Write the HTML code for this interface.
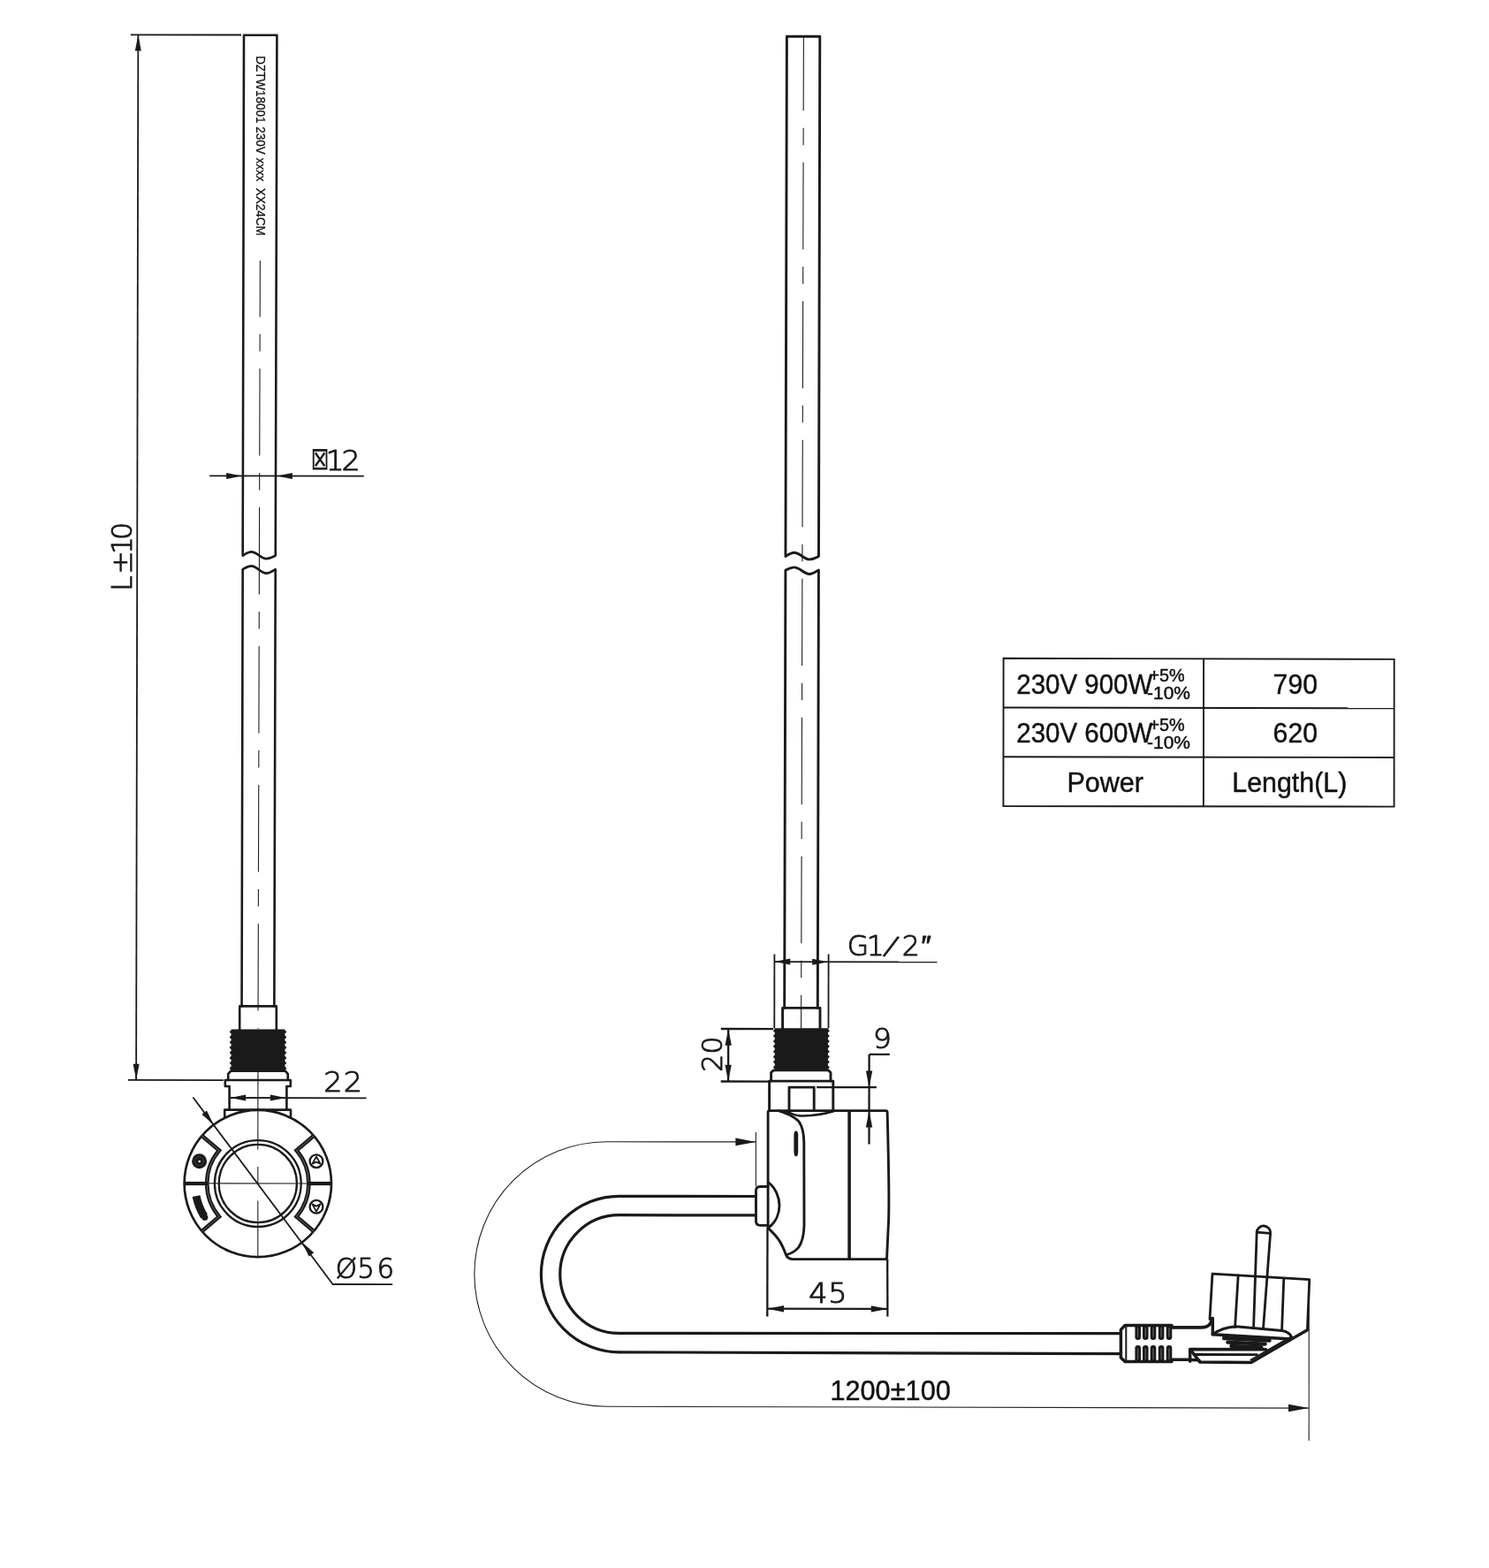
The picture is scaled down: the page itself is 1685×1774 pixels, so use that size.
<!DOCTYPE html>
<html lang="en">
<head>
<meta charset="utf-8">
<title>Heating element with controller - dimensional drawing</title>
<style>
html,body{margin:0;padding:0;background:#fff;}
body{width:1685px;height:1774px;overflow:hidden;}
svg{display:block;will-change:transform;filter:grayscale(1);}
.h{stroke:#1a1a1a;stroke-width:2.6;fill:none;stroke-linecap:round;stroke-linejoin:round;}
.h3{stroke:#1a1a1a;stroke-width:3.4;fill:none;stroke-linecap:round;stroke-linejoin:round;}
.h2{stroke:#1a1a1a;stroke-width:2;fill:none;stroke-linecap:round;stroke-linejoin:round;}
.d{stroke:#1a1a1a;stroke-width:1.9;fill:none;stroke-linecap:butt;}
.t{stroke:#222;stroke-width:1.1;fill:none;}
.c{stroke:#1f1f1f;stroke-width:1.1;fill:none;}
.k{fill:#1a1a1a;stroke:none;}
#front-view .h{stroke-width:2.6;}
#front-view .d{stroke-width:1.8;}
#side-view .h{stroke-width:2.9;}
#side-view .d{stroke-width:2.3;}
#side-view .tube{stroke-width:2.9;}
#side-view .cable{stroke-width:3.2;}
#plug .h{stroke-width:2.8;}
#plug .h3{stroke-width:3.5;}
.w{fill:#fff;stroke:none;}
.cad{font-family:"DejaVu Sans Light","DejaVu Sans","Liberation Sans",sans-serif;font-weight:200;font-size:31.5px;fill:#1a1a1a;stroke:#1a1a1a;stroke-width:1px;stroke-linejoin:round;}
.sym{font-family:"DejaVu Sans","Liberation Sans",sans-serif;font-weight:400;font-size:36px;fill:#1a1a1a;stroke:none;}
.lab{font-family:"Liberation Sans",sans-serif;font-size:30px;fill:#111;stroke:#111;stroke-width:0.45px;}
</style>
</head>
<body>
<svg width="1685" height="1774" viewBox="0 0 1685 1774">
<rect width="1685" height="1774" fill="#fff"/>
<g id="front-view">
<line class="d" x1="147.8" y1="39.35" x2="273" y2="39.5"/>
<line class="d" x1="156.35" y1="39.4" x2="154.1" y2="1222"/>
<line class="d" x1="144.8" y1="1221.9" x2="252.8" y2="1222.1"/>
<polygon class="k" points="156.35,39.6 159.82,57.61 152.82,57.59"/>
<polygon class="k" points="154.1,1221.8 150.63,1203.79 157.63,1203.81"/>
<text class="cad" transform="translate(148.5 0) rotate(-90) scale(1.0 1)" x="-668.71 -649.59 -626.91 -610.77" y="0">L±10</text>
<path class="h" d="M276,39.7 L274.69,628.6 C278.4,626.29 280.99,624.4 284.33,624.4 C290.63,624.4 295.45,632.1 301.38,632.1 C305.09,632.1 308.8,630 311.76,628.6 L313.4,39.8 Z"/>
<path class="h" d="M273.56,1138.4 L274.66,644.1 C278.36,642.07 280.96,640.4 284.29,640.4 C290.6,640.4 295.41,648.6 301.34,648.6 C305.05,648.6 308.76,645.9 311.72,644.1 L310.35,1138.4"/>
<text class="lab" x="0" y="0" transform="translate(289.7 63.2) rotate(90)" textLength="203.5" lengthAdjust="spacingAndGlyphs" style="font-size:14.4px;stroke-width:0.25px" xml:space="preserve">DZTW18001 230V xxxx  XX24CM</text>
<line class="c" x1="294.35" y1="295" x2="292" y2="1164" stroke-dasharray="98.5 19.5 19.5 19.5" stroke-dashoffset="35"/>
<line class="c" x1="291.95" y1="1211" x2="291.8" y2="1300.5"/>
<line class="c" x1="291.8" y1="1320" x2="291.8" y2="1339"/>
<line class="c" x1="291.8" y1="1358.5" x2="291.8" y2="1421"/>
<line class="d" x1="237.2" y1="538.3" x2="411.7" y2="538.7"/>
<polygon class="k" points="273.6,538.4 256.1,541.9 256.1,534.9"/>
<polygon class="k" points="313.4,538.5 330.9,535 330.9,542"/>
<text class="cad" transform="scale(1.06 1)" y="531.9"><tspan class="sym" x="331.51" y="531.3" textLength="20" lengthAdjust="spacingAndGlyphs">⊠</tspan><tspan x="347.63 364.61" y="531.9">12</tspan></text>
<polyline class="h" points="271.2,1164.9 271.2,1138.4 312.8,1138.4 312.8,1164.9"/>
<polygon class="k" points="261.6,1164.6 261.6,1165.48 259.6,1167.54 261.6,1169.59 261.6,1171.36 259.6,1173.41 261.6,1175.47 261.6,1177.23 259.6,1179.29 261.6,1181.34 261.6,1183.11 259.6,1185.16 261.6,1187.22 261.6,1188.98 259.6,1191.04 261.6,1193.09 261.6,1194.86 259.6,1196.91 261.6,1198.97 261.6,1200.73 259.6,1202.79 261.6,1204.84 261.6,1206.61 259.6,1208.66 261.6,1210.72 261.6,1211.6 322.4,1211.6 322.4,1210.72 324.4,1208.66 322.4,1206.61 322.4,1204.84 324.4,1202.79 322.4,1200.73 322.4,1198.97 324.4,1196.91 322.4,1194.86 322.4,1193.09 324.4,1191.04 322.4,1188.98 322.4,1187.22 324.4,1185.16 322.4,1183.11 322.4,1181.34 324.4,1179.29 322.4,1177.23 322.4,1175.47 324.4,1173.41 322.4,1171.36 322.4,1169.59 324.4,1167.54 322.4,1165.48 322.4,1164.6" stroke="#1a1a1a" stroke-width="1.4" stroke-linejoin="round"/>
<polyline class="h" points="258.2,1222 258.2,1215.2 261.2,1211.6 322.8,1211.6 325.8,1215.2 325.8,1222"/>
<polyline class="h" points="259.6,1255.4 259.6,1229 254.8,1229 254.8,1222 328.8,1222 328.8,1229 324.4,1229 324.4,1255.4"/>
<polyline class="h" points="254.2,1264.5 254.2,1255.6 329,1255.6 329,1264.5"/>
<line class="d" x1="260.5" y1="1242" x2="414.5" y2="1242.3"/>
<polygon class="k" points="260.6,1242 278.1,1238.5 278.1,1245.5"/>
<polygon class="k" points="323.4,1242.1 305.9,1245.6 305.9,1238.6"/>
<text class="cad" transform="scale(1.06 1)" x="345.46 366.69" y="1235.4">22</text>
<circle class="h" cx="291.8" cy="1339" r="83.2" style="stroke-width:2.7"/>
<circle class="h" cx="291.8" cy="1339" r="48.9" style="stroke-width:2.3"/>
<circle class="h" cx="291.8" cy="1339" r="44.1" style="stroke-width:2.3"/>
<path class="h" d="M355.07,1284.97 L335.6,1301.59 A57.6,57.6 0 0 1 335.6,1376.41 L355.07,1393.03" style="stroke-width:4.6;stroke-linejoin:miter;stroke-linecap:butt"/>
<path class="h" d="M355.07,1284.97 L335.6,1301.59 A57.6,57.6 0 0 1 335.6,1376.41 L355.07,1393.03" style="stroke:#fff;stroke-width:0.7;stroke-linejoin:miter;stroke-linecap:butt;opacity:.45"/>
<line class="h" x1="348.4" y1="1339" x2="375" y2="1339" style="stroke-width:4.2;stroke-linecap:butt"/>
<path class="h" d="M228.53,1393.03 L248,1376.41 A57.6,57.6 0 0 1 248,1301.59 L228.53,1284.97" style="stroke-width:4.6;stroke-linejoin:miter;stroke-linecap:butt"/>
<path class="h" d="M228.53,1393.03 L248,1376.41 A57.6,57.6 0 0 1 248,1301.59 L228.53,1284.97" style="stroke:#fff;stroke-width:0.7;stroke-linejoin:miter;stroke-linecap:butt;opacity:.45"/>
<line class="h" x1="235.2" y1="1339" x2="208.6" y2="1339" style="stroke-width:4.2;stroke-linecap:butt"/>
<line class="c" x1="231.5" y1="1338.8" x2="350" y2="1339"/>
<circle class="k" cx="225.6" cy="1313.7" r="8.5"/>
<circle class="h" cx="225.6" cy="1313.7" r="5" style="stroke:#555;stroke-width:0.6"/>
<circle class="w" cx="225.7" cy="1314" r="1.3"/>
<circle class="h" cx="358" cy="1313.7" r="7.4" style="stroke-width:2.3"/>
<path class="h" d="M358,1308.6 L362.6,1316.6 L358,1314.6 L353.4,1316.6 Z" style="stroke-width:1.8"/>
<circle class="h" cx="358" cy="1365.3" r="7.4" style="stroke-width:2.3"/>
<path class="h" d="M358,1370.6 L362.6,1362.4 L358,1364.6 L353.4,1362.4 Z" style="stroke-width:1.8"/>
<path class="h" d="M222.03,1353.19 A71.2,71.2 0 0 0 231.09,1376.2" style="stroke-width:9;stroke-linecap:butt"/>
<circle class="k" cx="231.75" cy="1377.26" r="3.6"/>
<line class="d" x1="218.4" y1="1241.5" x2="376.6" y2="1453"/>
<line class="d" x1="376" y1="1453" x2="444.2" y2="1453.2"/>
<polygon class="k" points="241.73,1272.55 228.4,1260.68 233.99,1256.47"/>
<polygon class="k" points="341.87,1405.45 355.2,1417.32 349.61,1421.53"/>
<text class="cad" transform="scale(0.98 1)" x="387.57 412.63 435.23" y="1445.7">Ø56</text>
</g>
<g id="side-view">
<path class="h tube" d="M890.4,41.2 L888.95,629.5 C892.7,627.19 895.33,625.3 898.7,625.3 C905.08,625.3 909.96,632.9 915.96,632.9 C919.71,632.9 923.46,630.86 926.46,629.5 L927.8,41.3 Z"/>
<path class="h tube" d="M887.7,1140.4 L888.91,645.2 C892.67,643.38 895.29,641.9 898.67,641.9 C905.04,641.9 909.92,649.5 915.92,649.5 C919.67,649.5 923.42,646.62 926.42,644.9 L925.3,1140.4"/>
<line class="c" x1="909.4" y1="42.5" x2="906.6" y2="1164" stroke-dasharray="98.5 19.5 19.5 19.5" stroke-dashoffset="15.8"/>
<line class="d" x1="876.4" y1="1079.5" x2="876.3" y2="1163.5" style="stroke-width:1.8"/>
<line class="d" x1="937.6" y1="1079.5" x2="937.5" y2="1163.5" style="stroke-width:1.8"/>
<line class="d" x1="876.1" y1="1088.1" x2="1060.5" y2="1088.4" style="stroke-width:1.9"/>
<polygon class="k" points="876.3,1088.1 894.3,1084.6 894.3,1091.6"/>
<polygon class="k" points="937.2,1088.2 919.2,1091.7 919.2,1084.7"/>
<text class="cad" transform="scale(1.0 1)" x="958.86 980.69 1000.09 1020.66 1042.59" y="1081 1081 1078.4 1081 1081" rotate="0 0 20 0 0">G1/2″</text>
<polyline class="h tube" points="885.6,1163.6 885.6,1140.4 928,1140.4 928,1163.6"/>
<polygon class="k" points="876.8,1163.2 876.8,1164.09 874.8,1166.15 876.8,1168.22 876.8,1169.99 874.8,1172.05 876.8,1174.12 876.8,1175.88 874.8,1177.95 876.8,1180.02 876.8,1181.79 874.8,1183.85 876.8,1185.92 876.8,1187.69 874.8,1189.75 876.8,1191.82 876.8,1193.59 874.8,1195.65 876.8,1197.72 876.8,1199.49 874.8,1201.55 876.8,1203.62 876.8,1205.38 874.8,1207.45 876.8,1209.52 876.8,1210.4 936.9,1210.4 936.9,1209.52 938.9,1207.45 936.9,1205.38 936.9,1203.62 938.9,1201.55 936.9,1199.49 936.9,1197.72 938.9,1195.65 936.9,1193.59 936.9,1191.82 938.9,1189.75 936.9,1187.69 936.9,1185.92 938.9,1183.85 936.9,1181.79 936.9,1180.02 938.9,1177.95 936.9,1175.88 936.9,1174.12 938.9,1172.05 936.9,1169.99 936.9,1168.22 938.9,1166.15 936.9,1164.09 936.9,1163.2" stroke="#1a1a1a" stroke-width="1.4" stroke-linejoin="round"/>
<path class="h" d="M872.6,1223 L872.6,1213.6 L875.2,1210.9 L937.4,1210.9 L940.0,1213.6 L940.0,1223"/>
<polyline class="h" points="870.6,1256 870.6,1223.1 942.8,1223.1 942.8,1256"/>
<polyline class="h" points="893,1256 893,1230.1 921.2,1230.1 921.2,1256"/>
<line class="d" x1="815.8" y1="1164" x2="875" y2="1164.1"/>
<line class="d" x1="815.7" y1="1223.5" x2="870.6" y2="1223.6"/>
<line class="d" x1="824.2" y1="1164" x2="824.1" y2="1223.5"/>
<polygon class="k" points="824.2,1164.3 827.9,1182.8 820.5,1182.8"/>
<polygon class="k" points="824.1,1223.3 820.4,1204.8 827.8,1204.8"/>
<text class="cad" transform="translate(817.4 0) rotate(-90) scale(1.0 1)" x="-1212.64 -1192.57" y="0">20</text>
<line class="d" x1="924.2" y1="1230.1" x2="991.9" y2="1230.2"/>
<line class="d" x1="983.6" y1="1192.9" x2="983.5" y2="1294.5"/>
<line class="d" x1="983.6" y1="1192.9" x2="1006.8" y2="1192.9"/>
<polygon class="k" points="983.55,1230 979.85,1211.5 987.25,1211.5"/>
<polygon class="k" points="983.5,1256.9 987.2,1275.4 979.8,1275.4"/>
<text class="cad" transform="scale(1.06 1)" x="931.8" y="1186.3">9</text>
<path class="h" d="M869.1,1389.3 L869.1,1258.4 Q869.1,1256.6 870.9,1256.6 L1002.6,1256.6 Q1004.0,1256.6 1004.1,1258.2 C1005.2,1300 1006.6,1350 1005.6,1380 L1003.6,1422.6 Q1003.5,1424.6 1001.6,1424.6 L897.5,1424.6 C892.5,1424.4 890.6,1422.6 889.4,1419.6 C884.6,1406.5 880.6,1399.6 869.1,1389.3"/>
<line class="h" x1="961.1" y1="1256.6" x2="961.1" y2="1424.6" style="stroke-width:3.6;stroke-linecap:butt"/>
<path class="h" d="M881.5,1256.8 C891,1259.6 898,1263 902.8,1267.6 C907.6,1272.6 909.6,1281.5 909.8,1292 L910.0,1386 C909.8,1397 907.6,1406 903.4,1411.6 C899.8,1415.6 895,1418.2 890.8,1419.4"/>
<path class="h" d="M890.5,1257.6 C897,1260.8 903,1262.8 908,1262.6 C918,1262.2 932,1260.6 943.4,1257.2" style="stroke-width:2.5"/>
<rect class="k" x="898.4" y="1279.4" width="4.8" height="28.8" rx="2.4" ry="5"/>
<path class="h" d="M869,1342.5 L860.2,1342.5 Q855.5,1342.5 855.5,1347.2 L855.5,1381.6 Q855.5,1386.4 860.2,1386.4 L869,1386.4"/>
<path class="h" d="M869.3,1337.6 C878,1344 882,1355 882,1364 C882,1373 878,1383 869.3,1389.3"/>
<path class="h cable" d="M855.4,1353.5 L700.6,1353.3 A88.25,88.25 0 0 0 700.6,1529.8 L1268.4,1531.6"/>
<path class="h cable" d="M855.4,1374.9 L700.6,1374.7 A66.85,66.85 0 0 0 700.6,1508.4 L1268.4,1508.6"/>
<path class="t" d="M855.0,1291.9 L686.6,1291.8 A149.75,149.75 0 0 0 686.6,1591.3 L1481.0,1593.1"/>
<line class="t" x1="855.4" y1="1281" x2="855.4" y2="1342"/>
<line class="t" x1="1481.3" y1="1447" x2="1481.2" y2="1630"/>
<polygon class="k" points="855.4,1291.9 832.4,1296.2 832.4,1287.6"/>
<polygon class="k" points="1481,1593.1 1457.99,1597.36 1458.01,1588.76"/>
<text class="lab" x="939.4" y="1584.2" textLength="136.4" lengthAdjust="spacingAndGlyphs" style="font-size:31.6px">1200±100</text>
<line class="d" x1="868.5" y1="1389.3" x2="868.3" y2="1489.6"/>
<line class="d" x1="1004.2" y1="1424.6" x2="1004.4" y2="1489.6"/>
<line class="d" x1="868.4" y1="1480.7" x2="1004.4" y2="1480.9"/>
<polygon class="k" points="868.5,1480.7 887,1477 887,1484.4"/>
<polygon class="k" points="1004.3,1480.9 985.8,1484.6 985.8,1477.2"/>
<text class="cad" transform="scale(1.06 1)" x="863.4 884.14" y="1474.1">45</text>
</g>
<g id="plug">
<path class="h3" d="M1326,1499.4 L1273.1,1499.4 L1268.4,1504.4 L1268.4,1535.9 L1273.1,1540.6 L1326,1540.6"/>
<line class="h2" x1="1274.3" y1="1500" x2="1274.3" y2="1540"/>
<path class="k" d="M1284.4,1498.4 L1284.4,1512.7 A3.3,3.3 0 0 0 1291,1512.7 L1291,1498.4 Z"/>
<path class="k" d="M1284.4,1541.6 L1284.4,1525.3 A3.3,3.3 0 0 1 1291,1525.3 L1291,1541.6 Z"/>
<line class="h" x1="1287.7" y1="1502.5" x2="1287.7" y2="1512.2" style="stroke:#777;stroke-width:0.9"/>
<line class="h" x1="1287.7" y1="1526" x2="1287.7" y2="1537.6" style="stroke:#777;stroke-width:0.9"/>
<path class="k" d="M1293,1498.4 L1293,1512.7 A3.3,3.3 0 0 0 1299.6,1512.7 L1299.6,1498.4 Z"/>
<path class="k" d="M1293,1541.6 L1293,1525.3 A3.3,3.3 0 0 1 1299.6,1525.3 L1299.6,1541.6 Z"/>
<line class="h" x1="1296.3" y1="1502.5" x2="1296.3" y2="1512.2" style="stroke:#777;stroke-width:0.9"/>
<line class="h" x1="1296.3" y1="1526" x2="1296.3" y2="1537.6" style="stroke:#777;stroke-width:0.9"/>
<path class="k" d="M1301.7,1498.4 L1301.7,1512.7 A3.3,3.3 0 0 0 1308.3,1512.7 L1308.3,1498.4 Z"/>
<path class="k" d="M1301.7,1541.6 L1301.7,1525.3 A3.3,3.3 0 0 1 1308.3,1525.3 L1308.3,1541.6 Z"/>
<line class="h" x1="1305" y1="1502.5" x2="1305" y2="1512.2" style="stroke:#777;stroke-width:0.9"/>
<line class="h" x1="1305" y1="1526" x2="1305" y2="1537.6" style="stroke:#777;stroke-width:0.9"/>
<path class="k" d="M1310.8,1498.4 L1310.8,1512.7 A3.3,3.3 0 0 0 1317.4,1512.7 L1317.4,1498.4 Z"/>
<path class="k" d="M1310.8,1541.6 L1310.8,1525.3 A3.3,3.3 0 0 1 1317.4,1525.3 L1317.4,1541.6 Z"/>
<line class="h" x1="1314.1" y1="1502.5" x2="1314.1" y2="1512.2" style="stroke:#777;stroke-width:0.9"/>
<line class="h" x1="1314.1" y1="1526" x2="1314.1" y2="1537.6" style="stroke:#777;stroke-width:0.9"/>
<path class="k" d="M1319.7,1498.4 L1319.7,1512.7 A3.3,3.3 0 0 0 1326.3,1512.7 L1326.3,1498.4 Z"/>
<path class="k" d="M1319.7,1541.6 L1319.7,1525.3 A3.3,3.3 0 0 1 1326.3,1525.3 L1326.3,1541.6 Z"/>
<line class="h" x1="1323" y1="1502.5" x2="1323" y2="1512.2" style="stroke:#777;stroke-width:0.9"/>
<line class="h" x1="1323" y1="1526" x2="1323" y2="1537.6" style="stroke:#777;stroke-width:0.9"/>
<path class="h3" d="M1326,1501.8 L1359.5,1501.9 C1366.5,1501.9 1371.2,1498 1371.6,1491.6" style="stroke-width:3.8"/>
<line class="h3" x1="1326" y1="1538.2" x2="1346.7" y2="1538.3"/>
<polyline class="h" points="1369,1492.5 1372,1441.2 1481.8,1447.7 1479.4,1504.7"/>
<line class="h" x1="1401.2" y1="1443" x2="1397.6" y2="1501.6"/>
<line class="h" x1="1452.8" y1="1446.1" x2="1450.6" y2="1504.6"/>
<path class="h" d="M1418.6,1502 L1422.2,1394.1 A7.6,7.6 0 0 1 1437.6,1395.3 L1429.6,1502.4"/>
<line class="h" x1="1422.2" y1="1394.1" x2="1437.6" y2="1395.3"/>
<path class="h3" d="M1372.3,1491.4 L1372.3,1509.8"/>
<path class="h" d="M1372.3,1509.6 C1378,1505.6 1388,1501.6 1398.5,1500.8 L1451,1505.6 C1456.5,1506.6 1460,1509.4 1461.4,1512.4" style="stroke-width:3"/>
<line class="h3" x1="1372.3" y1="1509.8" x2="1457.5" y2="1514.8"/>
<line class="h" x1="1385" y1="1514" x2="1436.6" y2="1516.6" style="stroke-width:4.3"/>
<line class="h" x1="1389.4" y1="1518.6" x2="1431.6" y2="1520.6" style="stroke-width:4.3"/>
<line class="h" x1="1393.4" y1="1523" x2="1427.4" y2="1524.4" style="stroke-width:4.3"/>
<polyline class="h3" points="1346.7,1540.2 1346.7,1526.5 1432.6,1526.8"/>
<line class="h" x1="1351" y1="1532.5" x2="1422.4" y2="1532.7"/>
<polyline class="h3" points="1347.4,1527.2 1357.6,1540.8"/>
<path class="h3" d="M1346.7,1538.6 L1356.6,1538.8 L1358.2,1541.1 L1415.9,1541.4 L1479.4,1504.7"/>
<line class="h" x1="1461.2" y1="1512.4" x2="1415.6" y2="1538.6" style="stroke-width:2.2"/>
</g>
<g id="spec-table">
<polygon class="d" points="1135.6,744.8 1577.7,745.9 1577.6,912.6 1135.4,912.1" style="stroke-linejoin:miter"/>
<line class="d" x1="1135.5" y1="800.5" x2="1577.7" y2="801.3"/>
<line class="d" x1="1135.5" y1="856.3" x2="1577.7" y2="857"/>
<line class="d" x1="1362.1" y1="745.3" x2="1361.9" y2="912.3"/>
<text class="lab" x="1150.3" y="784.5" textLength="154" lengthAdjust="spacingAndGlyphs" style="font-size:31px">230V 900W</text>
<text class="lab" x="1300.4" y="770.9" textLength="40.2" lengthAdjust="spacingAndGlyphs" style="font-size:20.6px">+5%</text>
<text class="lab" x="1298" y="790.7" textLength="49" lengthAdjust="spacingAndGlyphs" style="font-size:20.6px">-10%</text>
<text class="lab" x="1440.6" y="784.5" textLength="50.4" lengthAdjust="spacingAndGlyphs" style="font-size:31px">790</text>
<text class="lab" x="1150.3" y="840.3" textLength="154" lengthAdjust="spacingAndGlyphs" style="font-size:31px">230V 600W</text>
<text class="lab" x="1300.4" y="826.7" textLength="40.2" lengthAdjust="spacingAndGlyphs" style="font-size:20.6px">+5%</text>
<text class="lab" x="1298" y="846.5" textLength="49" lengthAdjust="spacingAndGlyphs" style="font-size:20.6px">-10%</text>
<text class="lab" x="1440.6" y="840.3" textLength="50.4" lengthAdjust="spacingAndGlyphs" style="font-size:31px">620</text>
<text class="lab" x="1207.4" y="895.8" textLength="86.6" lengthAdjust="spacingAndGlyphs" style="font-size:31px">Power</text>
<text class="lab" x="1394.3" y="895.8" textLength="130" lengthAdjust="spacingAndGlyphs" style="font-size:31px">Length(L)</text>
</g>
</svg>
</body>
</html>
